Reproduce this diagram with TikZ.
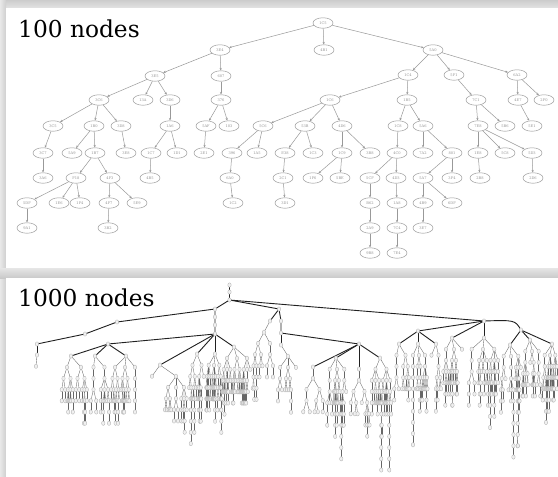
\documentclass[tikz,border=0pt]{standalone}
\usepackage{fontspec}
\setmainfont{DejaVu Serif}
\usetikzlibrary{arrows.meta,shapes.geometric}

\tikzset{
  tn/.style={ellipse, draw=gray!80, line width=0.5pt, minimum width=20pt,
             minimum height=10.5pt, inner sep=0pt, text=gray!85,
             font=\fontsize{3.6}{4}\selectfont},
  ed/.style={draw=gray!80, line width=0.5pt, -{Stealth[length=2.6pt,width=2.2pt]}},
  bn/.style={ellipse, draw=gray!65, fill=gray!12, line width=0.3pt,
             minimum width=3.4pt, minimum height=4.4pt, inner sep=0pt},
  bed/.style={draw=gray!80!black, line width=0.35pt},
  sk/.style={draw=gray!25!black, line width=0.9pt},
  title/.style={font=\fontsize{23.3}{24}\selectfont, anchor=base west, inner sep=0pt},
}

% random subtree laid out in [left,right]: x, y, left, right, depth
\newcommand\sprout[5]{%
  \ifnum#5<13
    \pgfmathrandominteger{\gq}{1}{50}%
    \ifnum#5<3 \def\ga{1}\def\gb{11}\def\gc{31}%
    \else\ifnum#5<6 \def\ga{6}\def\gb{21}\def\gc{41}%
    \else\def\ga{31}\def\gb{50}\def\gc{51}\fi\fi
    \ifnum\gq<\ga\relax\def\gk{0}\else\ifnum\gq<\gb\relax\def\gk{1}\else
      \ifnum\gq<\gc\relax\def\gk{2}\else\def\gk{3}\fi\fi\fi
    \ifnum\gk>0
      \foreach \k in {1,...,\gk}{%
        \pgfmathsetmacro\gl{#3+(\k-1)*(#4-#3)/\gk}%
        \pgfmathsetmacro\gm{#3+\k*(#4-#3)/\gk}%
        \pgfmathsetmacro\gx{(\gl+\gm)/2}%
        \pgfmathsetmacro\gy{#2+11.2}%
        \pgfmathtruncatemacro\gd{#5+1}%
        \draw[bed] (#1,#2) -- (\gx,\gy);
        \edef\gnext{\noexpand\sprout{\gx}{\gy}{\gl}{\gm}{\gd}}\gnext
      }%
    \fi
  \fi
  \node[bn] at (#1,#2) {};}

\begin{document}
\begin{tikzpicture}[x=1pt,y=-1pt]
\useasboundingbox (0,0) rectangle (558,477);

% frame and the two panels
\fill[gray!28] (0,0) rectangle (558,477);
\shade[top color=gray!40, bottom color=gray!22] (0,0) rectangle (558,8);
\shade[left color=gray!18, right color=gray!38] (0,0) rectangle (6,477);
\shade[top color=gray!20, bottom color=gray!42] (0,268) rectangle (558,278);
\fill[white] (6,8) rectangle (558,268);
\fill[white] (6,278) rectangle (558,477);

\node[title] (t100) at (18,37) {100 nodes};
\node[title] (t1000) at (18,306) {1000 nodes};

% ---- 100 nodes ----
\node[tn] (p0) at (323,23) {1C5};
\node[tn] (p1) at (220,50) {3E4};
\node[tn] (p2) at (324,50) {4B1};
\node[tn] (p3) at (433,50) {5A0};
\node[tn] (p4) at (155,76) {3E5};
\node[tn] (p5) at (221,76) {607};
\node[tn] (p6) at (408,75) {1C4};
\node[tn] (p7) at (454,75) {5F1};
\node[tn] (p8) at (517,75) {6A2};
\node[tn] (p9) at (99,100) {3C6};
\node[tn] (p10) at (143,100) {13A};
\node[tn] (p11) at (170,100) {3D6};
\node[tn] (p12) at (221,100) {376};
\node[tn] (p13) at (330,100) {1C6};
\node[tn] (p14) at (407,100) {1B5};
\node[tn] (p15) at (476,100) {7C1};
\node[tn] (p16) at (518,100) {4E7};
\node[tn] (p17) at (544,100) {2F0};
\node[tn] (p18) at (53,126) {3C5};
\node[tn] (p19) at (94,126) {1B0};
\node[tn] (p20) at (121,126) {3D8};
\node[tn] (p21) at (170,126) {1A6};
\node[tn] (p22) at (206,126) {5AF};
\node[tn] (p23) at (229,126) {103};
\node[tn] (p24) at (263,126) {5C6};
\node[tn] (p25) at (305,126) {53B};
\node[tn] (p26) at (342,126) {4D6};
\node[tn] (p27) at (398,126) {1C8};
\node[tn] (p28) at (423,126) {5A6};
\node[tn] (p29) at (478,126) {7E8};
\node[tn] (p30) at (505,126) {5B6};
\node[tn] (p31) at (532,126) {5E1};
\node[tn] (p32) at (43,153) {3C7};
\node[tn] (p33) at (72,153) {5A9};
\node[tn] (p34) at (95,153) {1B7};
\node[tn] (p35) at (126,153) {3E8};
\node[tn] (p36) at (151,153) {1C7};
\node[tn] (p37) at (177,153) {1D1};
\node[tn] (p38) at (204,153) {2E1};
\node[tn] (p39) at (232,153) {396};
\node[tn] (p40) at (257,153) {1A5};
\node[tn] (p41) at (285,153) {E38};
\node[tn] (p42) at (313,153) {1C3};
\node[tn] (p43) at (342,153) {1C9};
\node[tn] (p44) at (370,153) {3B8};
\node[tn] (p45) at (397,153) {4C0};
\node[tn] (p46) at (423,153) {7A2};
\node[tn] (p47) at (452,153) {801};
\node[tn] (p48) at (478,153) {1E8};
\node[tn] (p49) at (505,153) {5C8};
\node[tn] (p50) at (532,153) {5D3};
\node[tn] (p51) at (43,178) {3A6};
\node[tn] (p52) at (76,178) {F18};
\node[tn] (p53) at (110,178) {4F3};
\node[tn] (p54) at (150,178) {4B5};
\node[tn] (p55) at (230,178) {6A0};
\node[tn] (p56) at (283,178) {2C1};
\node[tn] (p57) at (313,178) {1F6};
\node[tn] (p58) at (340,178) {5BE};
\node[tn] (p59) at (370,178) {5CF};
\node[tn] (p60) at (396,178) {4D3};
\node[tn] (p61) at (423,178) {5A7};
\node[tn] (p62) at (452,178) {3F4};
\node[tn] (p63) at (480,178) {2B8};
\node[tn] (p64) at (533,178) {2D6};
\node[tn] (p65) at (27,203) {5DF};
\node[tn] (p66) at (59,203) {1E6};
\node[tn] (p67) at (80,203) {1F4};
\node[tn] (p68) at (109,203) {4F7};
\node[tn] (p69) at (137,203) {5E9};
\node[tn] (p70) at (233,203) {1C2};
\node[tn] (p71) at (285,203) {3D1};
\node[tn] (p72) at (370,203) {B62};
\node[tn] (p73) at (397,203) {1A8};
\node[tn] (p74) at (423,203) {4B9};
\node[tn] (p75) at (452,203) {6DF};
\node[tn] (p76) at (27,228) {9A1};
\node[tn] (p77) at (108,228) {3B2};
\node[tn] (p78) at (370,228) {2A9};
\node[tn] (p79) at (397,228) {7C4};
\node[tn] (p80) at (423,228) {3E7};
\node[tn] (p81) at (370,253) {9B8};
\node[tn] (p82) at (397,253) {7E4};

\foreach \a/\b in {p0/p1,p0/p2,p0/p3,p1/p4,p1/p5,p3/p6,p3/p7,p3/p8,
    p4/p9,p4/p10,p4/p11,p5/p12,p6/p13,p6/p14,p7/p15,p8/p16,p8/p17,
    p9/p18,p9/p19,p9/p20,p11/p21,p12/p22,p12/p23,p13/p24,p13/p25,p13/p26,
    p14/p27,p14/p28,p15/p29,p15/p30,p16/p31,p18/p32,p19/p33,p19/p34,
    p20/p35,p21/p36,p21/p37,p22/p38,p24/p39,p24/p40,p25/p41,p25/p42,
    p26/p43,p26/p44,p27/p45,p28/p46,p28/p47,p29/p48,p29/p49,p29/p50,
    p32/p51,p34/p52,p34/p53,p36/p54,p39/p55,p41/p56,p43/p57,p43/p58,
    p45/p59,p45/p60,p47/p61,p47/p62,p48/p63,p50/p64,p52/p65,p52/p66,
    p52/p67,p53/p68,p53/p69,p55/p70,p56/p71,p59/p72,p60/p73,p61/p74,
    p61/p75,p65/p76,p68/p77,p72/p78,p73/p79,p74/p80,p78/p81,p79/p82}
  \draw[ed] (\a) -- (\b);

% ---- 1000 nodes ----
\pgfmathsetseed{917}
\coordinate (t0) at (229.5,285);
\coordinate (t1) at (229.5,292);
\coordinate (t2) at (229.5,300);
\coordinate (ka) at (215,309);
\coordinate (ka2) at (215,317);
\coordinate (ka3) at (215,325);
\coordinate (ka4) at (215,334);
\coordinate (kl1) at (117,322);
\coordinate (kl2) at (85,334);
\coordinate (kl3) at (37,344);
\coordinate (km1) at (108,344);
\coordinate (kc) at (279,309);
\coordinate (kc2) at (281,321);
\coordinate (kc4) at (281,333);
\coordinate (kd) at (359,344);
\coordinate (kb) at (484,321);
\coordinate (ke) at (418,331);
\coordinate (kf) at (521,330);

\draw[sk] (t0) -- (t1) -- (t2) -- (ka) -- (ka2) -- (ka3) -- (ka4);
\draw[sk] (t2) -- (kb);
\draw[sk] (t2) -- (kc) -- (kc2) -- (kc4);
\draw[sk] (ka) -- (kl1) -- (kl2) -- (kl3);
\draw[sk] (ka4) -- (km1);
\draw[sk] (kc4) -- (kd);
\draw[sk] (kb) -- (ke);
\draw[sk] (kb) .. controls (515,320) .. (kf);

% hubs fan out into subtrees: hub / x / y / left / right
\foreach \h/\x/\y/\l/\r in {kl3/37/355/12/60, km1/71/356/60/88,
    km1/95/356/88/110, km1/126/356/110/140, ka4/160/365/140/188,
    ka4/197/354/188/206, ka4/215/354/206/222, ka4/234/347/222/252,
    kc/270/321/252/276, kc4/281/345/276/300, kd/313/367/300/326,
    kd/336/358/326/348, kd/359/369/348/370, kd/380/358/370/392,
    ke/399/344/392/410, ke/418/344/410/428, ke/436/344/428/442,
    kb/452/338/442/466, kb/484/338/466/500, kf/510/345/500/522,
    kf/530/340/522/542, kf/552/344/542/558}{
  \draw[sk] (\h) -- (\x,\y);
  \sprout{\x}{\y}{\l}{\r}{2}
}

\foreach \c in {t0,t1,t2,ka,ka2,ka3,ka4,kl1,kl2,kl3,km1,kc,kc2,kc4,kd,kb,ke,kf}
  \node[bn] at (\c) {};
\end{tikzpicture}
\end{document}
